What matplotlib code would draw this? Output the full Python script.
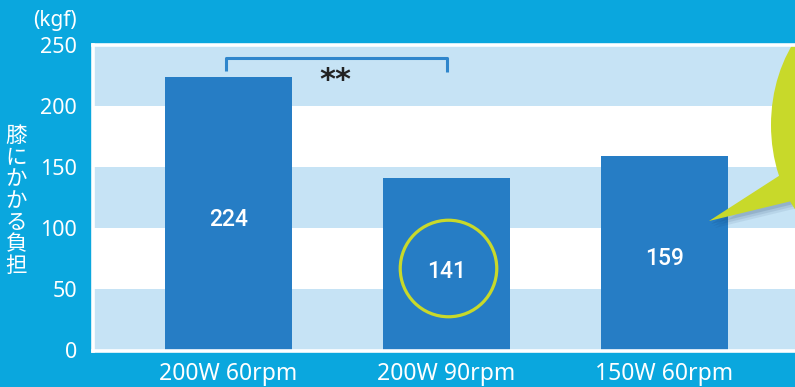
import matplotlib
matplotlib.use("Agg")
import matplotlib.pyplot as plt
from matplotlib.patches import Ellipse, Polygon

plt.rcParams['font.family'] = ['Noto Sans', 'Noto Sans CJK JP', 'DejaVu Sans']

# data
categories = ["200W 60rpm", "200W 90rpm", "150W 60rpm"]
knee_load = [224, 141, 159]
label_y = [107, 65, 75]          # where each value is written inside its bar
y_ticks = [0, 50, 100, 150, 200, 250]

BG = "#0aa7de"
BAND = "#c6e3f5"
BAR = "#267dc5"
LIME = "#c8d92a"

W, H = 795, 387
fig = plt.figure(figsize=(W / 100, H / 100), dpi=100, facecolor=BG)

# axes box in pixel terms
left_px, right_px, top_px, bot_px = 92.5, 800, 45, 350.5
ax = fig.add_axes([left_px / W, (H - bot_px) / H,
                   (right_px - left_px) / W, (bot_px - top_px) / H])
ax.set_facecolor("white")

xmin = -(228.5 - left_px) / 218
xmax = (right_px - 228.5) / 218
ax.set_xlim(xmin, xmax)
ax.set_ylim(0, 250)

# alternating horizontal bands
for lo in (0, 100, 200):
    ax.axhspan(lo, lo + 50, color=BAND, zorder=0, lw=0)

x = list(range(len(categories)))
ax.bar(x, knee_load, width=0.583, color=BAR, zorder=2)

for xi, v, ly in zip(x, knee_load, label_y):
    ax.text(xi, ly, str(v), color="white", fontsize=16.5, ha="center",
            va="center", family=["Roboto", "Noto Sans"], fontweight="medium",
            zorder=4)

# highlight ring around the middle value
ax.plot([1.005], [label_y[1] + 2.5], marker="o", markersize=69.5,
        markerfacecolor="none", markeredgecolor=LIME, markeredgewidth=2.3,
        zorder=3, clip_on=False)

# significance bracket between the first two bars
by, leg_l, leg_r = 239, 228.5, 227.5
ax.plot([-0.01, -0.01, 1.003, 1.003], [leg_l, by, by, leg_r],
        color="#2f86cc", lw=2.2, solid_capstyle="butt", zorder=3)
ax.text(0.49, by - 18, "**", ha="center", va="center", fontsize=22,
        fontweight="bold", color="#222222", family="DejaVu Sans", zorder=3)

# speech bubble on the right edge
def px(xp, yp):
    return (xp / W, 1 - yp / H)

tf = fig.transFigure
tail_pts = [(709, 221), (785, 172), (800, 199)]
for dx, dy, a in ((6, 7, 0.07), (4, 5, 0.09), (2, 3, 0.12)):
    sh = Polygon([px(u + dx, v + dy) for u, v in tail_pts], closed=True,
                 transform=tf, facecolor="#0b2a55", alpha=a, lw=0, zorder=4)
    ax.add_patch(sh)
    sh.set_clip_path(ax.patch)
bubble = Ellipse(px(871, 125), 200 / W, 260 / H, transform=tf,
                 facecolor=LIME, lw=0, zorder=5)
ax.add_patch(bubble)
bubble.set_clip_path(ax.patch)
tail = Polygon([px(u, v) for u, v in tail_pts], closed=True,
               transform=tf, facecolor=LIME, lw=0, zorder=5)
ax.add_patch(tail)
tail.set_clip_path(ax.patch)

# white frame around the plotting area
for s in ("left", "bottom", "top"):
    ax.spines[s].set_color("white")
    ax.spines[s].set_linewidth(2.6)
    ax.spines[s].set_zorder(6)
ax.spines["right"].set_visible(False)

ax.set_yticks(y_ticks)
ax.set_yticklabels([str(t) for t in y_ticks])
ax.set_xticks(x)
ax.set_xticklabels(categories)
ax.tick_params(axis="y", length=0, pad=11, labelsize=15.5, labelcolor="white")
ax.tick_params(axis="x", length=0, pad=8, labelsize=16.5, labelcolor="white")

fig.text(54.5 / W, 1 - 20.5 / H, "(kgf)", color="white", fontsize=15,
         ha="center", va="center")
fig.text(16.5 / W, 1 - 201 / H, "\n".join("膝にかかる負担"), color="white",
         fontsize=15.5, ha="center", va="center", linespacing=0.98,
         family=["Noto Sans CJK JP", "DejaVu Sans"])

fig.savefig("out.png", dpi=100, facecolor=BG)
